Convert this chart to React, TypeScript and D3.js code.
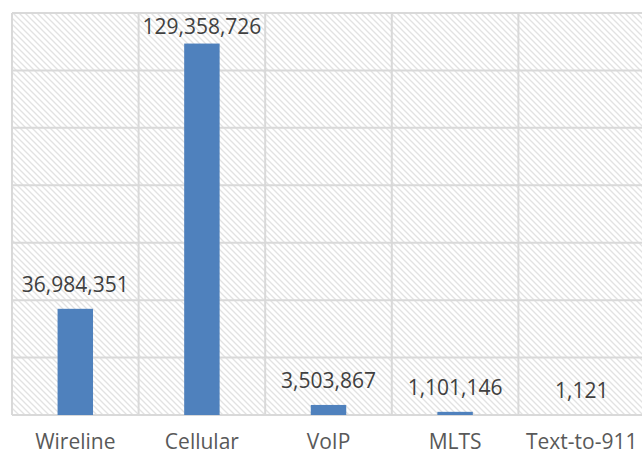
import { useEffect, useRef } from "react";
import * as d3 from "d3";

const categories = ["Wireline", "Cellular", "VoIP", "MLTS", "Text-to-911"];
const values = [36984351, 129358726, 3503867, 1101146, 1121];
const yTicks = [0, 20000000, 40000000, 60000000, 80000000, 100000000, 120000000, 140000000];

export default function App() {
  const ref = useRef<SVGSVGElement>(null);

  useEffect(() => {
    const svg = d3.select(ref.current);
    svg.selectAll("*").remove();

    const width = 642,
      height = 455;
    const margin = { top: 13, right: -3, bottom: 40, left: 12 };

    // hatch pattern for the plot background
    const defs = svg.append("defs");
    const pat = defs
      .append("pattern")
      .attr("id", "hatch")
      .attr("patternUnits", "userSpaceOnUse")
      .attr("width", 6)
      .attr("height", 6);
    pat.append("rect").attr("width", 6).attr("height", 6).attr("fill", "#fff");
    pat
      .append("path")
      .attr("d", "M-1,-1 L7,7 M-1,5 L1,7 M5,-1 L7,1")
      .attr("stroke", "#e2e2e2")
      .attr("stroke-width", 1.3);

    const x = d3
      .scaleBand()
      .domain(categories)
      .range([margin.left, width - margin.right])
      .padding(0);

    const y = d3
      .scaleLinear()
      .domain([0, 140000000])
      .range([height - margin.bottom, margin.top]);

    svg
      .append("rect")
      .attr("x", margin.left)
      .attr("y", margin.top)
      .attr("width", width - margin.right - margin.left)
      .attr("height", y(0) - margin.top)
      .attr("fill", "url(#hatch)");

    // horizontal gridlines
    svg
      .append("g")
      .selectAll("line")
      .data(yTicks)
      .enter()
      .append("line")
      .attr("x1", margin.left)
      .attr("x2", width - margin.right)
      .attr("y1", (d) => y(d))
      .attr("y2", (d) => y(d))
      .attr("stroke", "#d9d9d9")
      .attr("stroke-width", 2);

    // vertical lines at category boundaries
    svg
      .append("g")
      .selectAll("line")
      .data(categories)
      .enter()
      .append("line")
      .attr("x1", (d) => x(d)!)
      .attr("x2", (d) => x(d)!)
      .attr("y1", margin.top)
      .attr("y2", y(0))
      .attr("stroke", "#d9d9d9")
      .attr("stroke-width", 2);

    const barW = x.bandwidth() * 0.28;
    const data = categories.map((c, i) => ({ c, v: values[i] }));

    svg
      .append("g")
      .selectAll("rect")
      .data(data)
      .enter()
      .append("rect")
      .attr("x", (d) => x(d.c)! + x.bandwidth() / 2 - barW / 2)
      .attr("width", barW)
      .attr("y", (d) => y(d.v))
      .attr("height", (d) => y(0) - y(d.v))
      .attr("fill", "#4f81bd");

    const fmt = d3.format(",");
    svg
      .append("g")
      .selectAll("text")
      .data(data)
      .enter()
      .append("text")
      .attr("x", (d) => x(d.c)! + x.bandwidth() / 2)
      .attr("y", (d) => Math.max(y(d.v) - 17, 34))
      .attr("text-anchor", "middle")
      .attr("font-family", "'Open Sans', sans-serif")
      .attr("font-size", 21)
      .attr("fill", "#404040")
      .text((d) => fmt(d.v));

    // category labels
    svg
      .append("g")
      .selectAll("text")
      .data(categories)
      .enter()
      .append("text")
      .attr("x", (d) => x(d)! + x.bandwidth() / 2)
      .attr("y", 449)
      .attr("text-anchor", "middle")
      .attr("font-family", "'Open Sans', sans-serif")
      .attr("font-size", 21)
      .attr("fill", "#595959")
      .text((d) => d);
  }, []);

  return (
    <svg
      ref={ref}
      width={642}
      height={455}
      style={{ position: "absolute", left: 0, top: 0 }}
    />
  );
}
